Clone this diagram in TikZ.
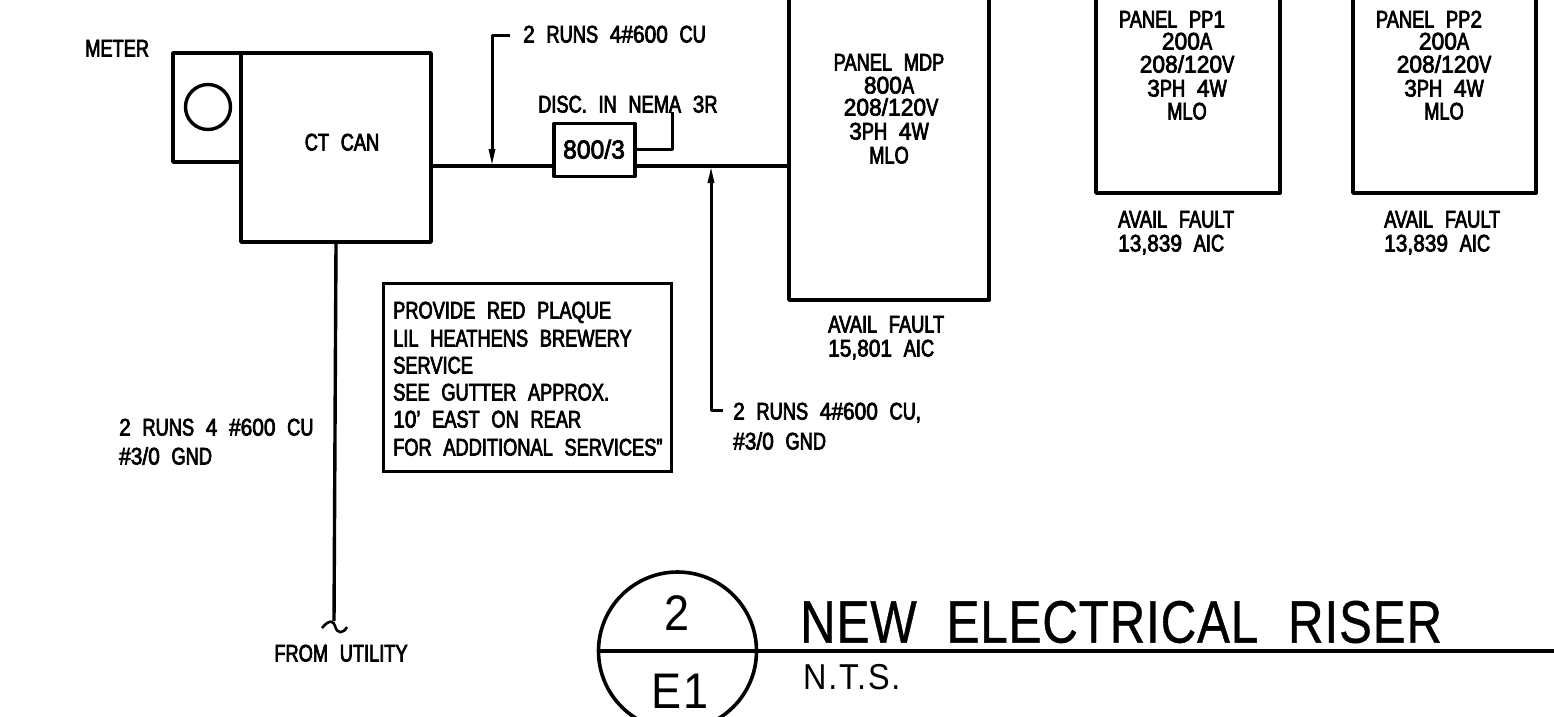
\documentclass[tikz,border=0pt]{standalone}
\usepackage{fontspec}
\setmainfont[FakeStretch=0.76,FakeBold=3,WordSpace=2.3]{Liberation Sans}
\newfontfamily\titlefont[FakeStretch=0.82,FakeBold=0.6,WordSpace=2.05,LetterSpace=1.5]{Liberation Sans}
\newfontfamily\markfont[FakeStretch=0.9,LetterSpace=5]{Liberation Sans}
\newfontfamily\digfont[FakeStretch=0.95,FakeBold=3]{Liberation Sans}
\newfontfamily\dignarrow[FakeStretch=0.87,FakeBold=3]{Liberation Sans}
\newcommand{\dg}[1]{{\dignarrow #1}}
\newcommand{\dgw}[1]{{\digfont #1}}
\usetikzlibrary{arrows.meta}
\tikzset{
 wire/.style={draw=black,line width=3.8pt,line cap=round,line join=round},
 thinwire/.style={draw=black,line width=3pt,line join=round},
 lead/.style={draw=black,line width=3pt,line join=round,-{Triangle[length=17pt,width=6pt]}},
 lab/.style={inner sep=0pt,anchor=west,text height=17pt,text depth=0pt,font=\fontsize{24}{24}\selectfont},
 clab/.style={inner sep=0pt,anchor=center,text height=17pt,text depth=0pt,font=\fontsize{24}{24}\selectfont},
 block/.style={draw=black,line width=3.8pt,line join=round,inner sep=0pt}
}
\begin{document}
\begin{tikzpicture}[x=1pt,y=-1pt]
\useasboundingbox (0,0) rectangle (1554,716);
\clip (0,0) rectangle (1554,716);
% meter and CT can
\node[block,minimum width=68pt,minimum height=109pt] (meter) at (207,107.5) {};
\node[block,minimum width=190pt,minimum height=189pt,fill=white] (ct) at (336,147.5) {};
\node[draw=black,line width=3.4pt,circle,minimum size=45pt,inner sep=0pt] (dial) at (208,107) {};
\node[clab] (ctl) at (342,142) {CT CAN};
\node[lab] (mtl) at (85,48) {METER};
% disconnect
\node[block,minimum width=81pt,minimum height=53pt] (disc) at (594.5,150) {};
\node[clab,font=\digfont\fontsize{26}{26}\selectfont] (discv) at (594,150) {800/3};
\node[lab] (discl) at (538,104) {DISC. IN NEMA \dg{3}R};
\coordinate (busa) at (ct.east |- 0,166);
\coordinate (busb) at (disc.west |- 0,166);
\coordinate (busc) at (disc.east |- 0,166);
% panels
\path[wire] (789,-5) -- (789,300) -- (989,300) -- (989,-5);
\coordinate (mdpin) at (789,166);
\path[wire] (1096,-5) -- (1096,193) -- (1280,193) -- (1280,-5);
\path[wire] (1353,-5) -- (1353,193) -- (1536,193) -- (1536,-5);
\path[wire] (busa) -- (busb);
\path[wire] (busc) -- (mdpin);
% leaders
\coordinate (r1) at (510,35);
\coordinate (r1c) at (492,35);
\coordinate (r1e) at (492,166);
\draw[lead] (r1) -- (r1c) -- (r1e);
\node[lab] (r1l) at (523,34) {\dg{2} RUNS \dg{4\#600} CU};
\coordinate (d1) at (637,149);
\coordinate (d2) at (672,149);
\coordinate (d3) at (672,112);
\draw[thinwire] (d1) -- (d2) -- (d3);
\coordinate (r2) at (723,410);
\coordinate (r2c) at (711,410);
\coordinate (r2e) at (711,166);
\draw[lead] (r2) -- (r2c) -- (r2e);
\node[lab] (r2a) at (733,411) {\dg{2} RUNS \dg{4\#600} CU,};
\node[lab] (r2b) at (733,441) {\dg{\#3/0} GND};
% MDP text
\node[clab] (m1) at (889,62) {PANEL MDP};
\node[clab] (m2) at (889,85) {\dgw{800}A};
\node[clab] (m3) at (891,107) {\dgw{208/120}V};
\node[clab] (m4) at (889,131) {\dgw{3}PH \dgw{4}W};
\node[clab] (m5) at (889,155) {MLO};
\node[lab] (m6) at (828,324) {AVAIL FAULT};
\node[lab] (m7) at (828,348) {\dg{15,801} AIC};
% PP1
\node[clab] (p1) at (1172,19) {PANEL PP\dg{1}};
\node[clab] (p2) at (1187,41) {\dgw{200}A};
\node[clab] (p3) at (1187,64) {\dgw{208/120}V};
\node[clab] (p4) at (1187,88) {\dgw{3}PH \dgw{4}W};
\node[clab] (p5) at (1187,111) {MLO};
\node[lab] (p6) at (1118,219) {AVAIL FAULT};
\node[lab] (p7) at (1118,243) {\dg{13,839} AIC};
% PP2
\node[clab] (q1) at (1429,19) {PANEL PP\dg{2}};
\node[clab] (q2) at (1444,41) {\dgw{200}A};
\node[clab] (q3) at (1444,64) {\dgw{208/120}V};
\node[clab] (q4) at (1444,88) {\dgw{3}PH \dgw{4}W};
\node[clab] (q5) at (1444,111) {MLO};
\node[lab] (q6) at (1384,219) {AVAIL FAULT};
\node[lab] (q7) at (1384,243) {\dg{13,839} AIC};
% note
\node[draw=black,line width=3pt,minimum width=288pt,minimum height=188pt,inner sep=0pt] (note) at (527.5,377) {};
\node[lab] (n1) at (393,310) {PROVIDE RED PLAQUE};
\node[lab] (n2) at (393,338) {LIL HEATHENS BREWERY};
\node[lab] (n3) at (393,365) {SERVICE};
\node[lab] (n4) at (393,392) {SEE GUTTER APPROX.};
\node[lab] (n5) at (393,419) {\dg{10}' EAST ON REAR};
\node[lab] (n6) at (393,447) {FOR ADDITIONAL SERVICES"};
% utility feed
\coordinate (ut) at (334,621);
\draw[wire,line width=3.4pt,line cap=butt] (ct.south -| 336,0) -- (ut);
\draw[line width=2.6pt] (322,628) .. controls (330,618) and (334,622) .. (335,626) .. controls (337,634) and (343,634) .. (347,627);
\node[clab] (ul) at (341,653) {FROM UTILITY};
\node[lab] (u2a) at (119,427) {\dg{2} RUNS \dg{4} \dg{\#600} CU};
\node[lab] (u2b) at (119,456) {\dg{\#3/0} GND};
% title mark
\node[draw=black,line width=3.6pt,circle,minimum size=158pt,inner sep=0pt] (mark) at (677.5,651) {};
\coordinate (rule) at (1560,651);
\draw[line width=3.8pt] (mark.west) -- (rule);
\node[inner sep=0pt,font=\markfont\fontsize{50}{50}\selectfont] (mk1) at (677,613) {2};
\node[inner sep=0pt,font=\markfont\fontsize{50}{50}\selectfont] (mk2) at (680,691) {E1};
\node[inner sep=0pt,anchor=west,font=\titlefont\fontsize{60}{60}\selectfont] (title) at (800,622) {NEW ELECTRICAL RISER};
\node[inner sep=0pt,anchor=west,font=\markfont\fontsize{36}{36}\selectfont] (nts) at (803,677) {N.T.S.};
\end{tikzpicture}
\end{document}
